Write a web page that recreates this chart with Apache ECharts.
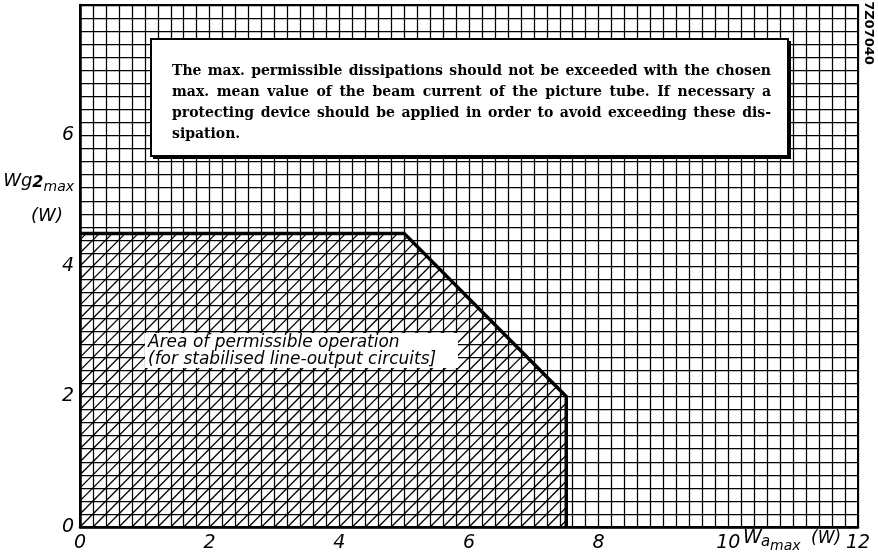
<!DOCTYPE html>
<html>
<head>
<meta charset="utf-8">
<script src="https://cdn.jsdelivr.net/npm/echarts@6/dist/echarts.min.js"></script>
<style>html,body{margin:0;padding:0;background:#fff}#c{width:878px;height:557px}</style>
</head>
<body>
<div id="c"></div>
<script>
// ---- data ----
const xTickLabels = ['0', '2', '4', '6', '8', '10', '12'];
const yTickLabels = ['0', '2', '4', '6', ''];
const regionX = [0, 0, 5, 7.5, 7.5];      // permissible operation area (polygon)
const regionY = [0, 4.5, 4.5, 2, 0];
const limitX = [0, 5, 7.5, 7.5];          // heavy limit line
const limitY = [4.5, 4.5, 2, 0];
const hatchStep = 0.2;
const noteLines = [
  'The max. permissible dissipations should not be exceeded with the chosen',
  'max. mean value of the beam current of the picture tube. If necessary a',
  'protecting device should be applied in order to avoid exceeding these dis-',
  'sipation.'
];
const areaLabel = ['Area of permissible operation', '(for stabilised line-output circuits]'];
const drawingCode = '7Z07040';

// ---- chart ----
const chart = echarts.init(document.getElementById('c'), null, {renderer: 'canvas'});
const SANS = 'DejaVu Sans';
const LBL = {fontFamily: SANS, fontStyle: 'italic', fontSize: 19, color: '#000'};

function clipLine(px, py, dx, dy) {
  const n = regionX.length;
  let area = 0;
  for (let i = 0; i < n; i++) {
    const j = (i + 1) % n;
    area += regionX[i] * regionY[j] - regionX[j] * regionY[i];
  }
  const s = area > 0 ? 1 : -1;
  let t0 = 0, t1 = 1;
  for (let i = 0; i < n; i++) {
    const j = (i + 1) % n;
    const ex = regionX[j] - regionX[i], ey = regionY[j] - regionY[i];
    const f0 = s * (ex * (py - regionY[i]) - ey * (px - regionX[i]));
    const fd = s * (ex * dy - ey * dx);
    if (Math.abs(fd) < 1e-12) { if (f0 < 0) return null; continue; }
    const t = -f0 / fd;
    if (fd > 0) t0 = Math.max(t0, t); else t1 = Math.min(t1, t);
  }
  if (t1 <= t0) return null;
  return [[px + t0 * dx, py + t0 * dy], [px + t1 * dx, py + t1 * dy]];
}

function renderHatch(params, api) {
  const children = [];
  const kMax = Math.round(20 / hatchStep);
  for (let k = -kMax; k <= kMax; k++) {
    const c = k * hatchStep;
    const seg = clipLine(-10, -10 - c, 30, 30);
    if (!seg) continue;
    const a = api.coord(seg[0]), b = api.coord(seg[1]);
    children.push({type: 'line', shape: {x1: a[0], y1: a[1], x2: b[0], y2: b[1]},
      style: {stroke: '#000', lineWidth: 1.3}});
  }
  return {type: 'group', children};
}

const ctx = document.createElement('canvas').getContext('2d');
function textW(str, font) { ctx.font = font; return ctx.measureText(str).width; }

// justified note text
const NOTE_SIZE = 14;
const noteFontCss = 'bold ' + NOTE_SIZE + 'px "DejaVu Serif"';
const noteLeft = 172, noteRight = 771, noteTop = 71, noteGap = 21;
const graphics = [];
graphics.push({type: 'rect', z: 100, shape: {x: 153, y: 41, width: 638, height: 118}, style: {fill: '#000'}});
graphics.push({type: 'rect', z: 101, shape: {x: 151, y: 39, width: 637, height: 117}, style: {fill: '#fff', stroke: '#000', lineWidth: 2}});
noteLines.forEach((line, li) => {
  const words = line.split(' ');
  const y = noteTop + li * noteGap;
  const last = li === noteLines.length - 1;
  const widths = words.map(w => textW(w, noteFontCss));
  const total = widths.reduce((a, b) => a + b, 0);
  const space = last ? textW(' ', noteFontCss) : (noteRight - noteLeft - total) / (words.length - 1);
  let x = noteLeft;
  words.forEach((w, i) => {
    graphics.push({type: 'text', z: 102, x: x, y: y,
      style: {text: w, fill: '#000', fontFamily: 'DejaVu Serif', fontWeight: 'bold', fontSize: NOTE_SIZE,
        textAlign: 'left', textVerticalAlign: 'middle'}});
    x += widths[i] + space;
  });
});
// area label
graphics.push({type: 'rect', z: 100, shape: {x: 145, y: 333, width: 313, height: 35}, style: {fill: '#fff'}});
areaLabel.forEach((t, i) => {
  graphics.push({type: 'text', z: 101, x: 148, y: 343 + i * 17,
    style: {text: t, fill: '#000', fontFamily: SANS, fontStyle: 'italic', fontSize: 17,
      textAlign: 'left', textVerticalAlign: 'middle'}});
});
// axis names
const nameText = (text, x, y, size, align, weight) => ({type: 'text', z: 50, x, y,
  style: {text, fill: '#000', fontFamily: SANS, fontStyle: 'italic', fontWeight: weight || 'normal', fontSize: size,
    textAlign: align || 'left', textVerticalAlign: 'middle'}});
const wgW = textW('Wg', 'italic 18px "DejaVu Sans"');
const twoW = textW('2', 'italic bold 16px "DejaVu Sans"');
const maxW = textW('max', 'italic 14px "DejaVu Sans"');
let nx = 74 - (wgW + twoW + maxW);
graphics.push(nameText('Wg', nx, 181, 18)); nx += wgW;
graphics.push(nameText('2', nx, 183, 16, 'left', 'bold')); nx += twoW;
graphics.push(nameText('max', nx, 187, 14));
graphics.push(nameText('(W)', 47, 216, 18, 'center'));
graphics.push(nameText('W', 743, 538, 19));
graphics.push(nameText('a', 761, 542, 15));
graphics.push(nameText('max', 770, 546, 14));
graphics.push(nameText('(W)', 811, 539, 17));
graphics.push({type: 'text', z: 50, x: 868, y: 33, rotation: -Math.PI / 2,
  style: {text: drawingCode, fill: '#000', fontFamily: SANS, fontWeight: 'bold', fontSize: 13,
    textAlign: 'center', textVerticalAlign: 'middle'}});

const option = {
  animation: false,
  backgroundColor: '#fff',
  grid: {left: 80, right: 20, top: 5, bottom: 30, show: true, borderColor: '#000', borderWidth: 2},
  xAxis: {
    type: 'value', min: 0, max: 12, interval: 2,
    axisLine: {show: true, onZero: false, lineStyle: {color: '#000', width: 2.5}},
    axisTick: {show: false},
    minorTick: {show: false, splitNumber: 10},
    splitLine: {show: true, lineStyle: {color: '#000', width: 1.25}},
    minorSplitLine: {show: true, lineStyle: {color: '#000', width: 1.25}},
    axisLabel: Object.assign({margin: 7, formatter: (v) => xTickLabels[Math.round(v / 2)]}, LBL)
  },
  yAxis: {
    type: 'value', min: 0, max: 8, interval: 2,
    axisLine: {show: true, onZero: false, lineStyle: {color: '#000', width: 2.5}},
    axisTick: {show: false},
    minorTick: {show: false, splitNumber: 10},
    splitLine: {show: true, lineStyle: {color: '#000', width: 1.25}},
    minorSplitLine: {show: true, lineStyle: {color: '#000', width: 1.25}},
    axisLabel: Object.assign({margin: 6, formatter: (v) => yTickLabels[Math.round(v / 2)]}, LBL)
  },
  series: [
    {type: 'custom', renderItem: renderHatch, data: [[0, 0]], z: 3, silent: true},
    {type: 'line', data: limitX.map((x, i) => [x, limitY[i]]), symbol: 'none', z: 4,
      lineStyle: {color: '#000', width: 3.5}}
  ],
  graphic: graphics
};
chart.setOption(option);
</script>
</body>
</html>
